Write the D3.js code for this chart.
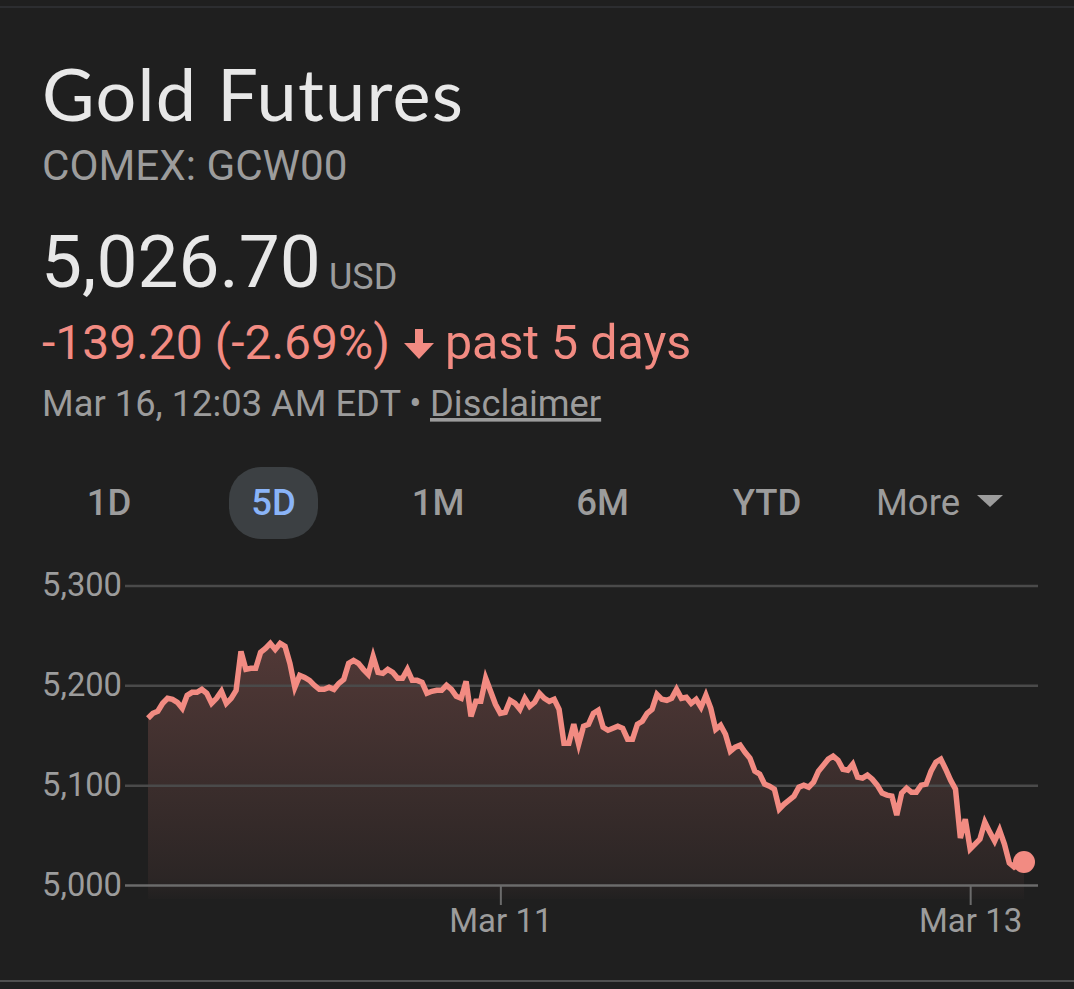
<!DOCTYPE html>
<html>
<head>
<meta charset="utf-8">
<style>
    html, body { margin: 0; padding: 0; background: #1f1f1f; }
    svg { display: block; }
    text { font-family: Roboto, sans-serif; }
    .domain { display: none; }
</style>
</head>
<body>
<svg width="1074" height="989"></svg>
<script src="https://d3js.org/d3.v7.min.js"></script>
<script>
// half-hour samples across the 5 day view
let prices = [
    5167,5172,5174,5182,5187,5186,5183,5177,5190,5193,
    5193,5196,5192,5182,5187,5194,5182,5187,5195,5234,
    5216,5217,5217,5233,5237,5242,5236,5242,5239,5222,
    5198,5210,5208,5205,5200,5196,5196,5198,5196,5202,
    5206,5222,5225,5222,5216,5211,5229,5213,5212,5216,
    5213,5207,5207,5216,5205,5205,5203,5192,5194,5195,
    5195,5200,5196,5189,5187,5204,5169,5184,5184,5207,
    5194,5181,5172,5173,5185,5182,5176,5187,5179,5183,
    5192,5187,5184,5186,5176,5142,5142,5161,5141,5159,
    5161,5172,5175,5158,5155,5157,5159,5157,5146,5146,
    5161,5164,5172,5176,5191,5186,5185,5187,5196,5187,
    5188,5182,5186,5178,5190,5177,5156,5160,5151,5134,
    5138,5140,5133,5127,5114,5111,5101,5099,5096,5076,
    5081,5085,5089,5098,5100,5098,5103,5114,5120,5126,
    5129,5125,5116,5115,5121,5108,5107,5110,5106,5100,
    5092,5090,5089,5070,5092,5097,5093,5093,5100,5101,
    5114,5123,5126,5116,5105,5096,5047,5066,5036,5041,
    5046,5063,5053,5044,5055,5041,5022,5018,5021,5023
];
let priceTicks = [5000, 5100, 5200, 5300];
let dateTicks = [72, 168];
let dateLabels = ["Mar 11", "Mar 13"];
let ranges = ["1D", "5D", "1M", "6M", "YTD"];

let white = "#e8e8e8";
let gray = "#9c9c9c";
let red = "#f28b82";

let svg = d3.select("svg");

let x = d3.scaleLinear().domain([0, prices.length - 1]).range([148, 1024]);
let y = d3.scaleLinear().domain([5000, 5300]).range([885, 585.5]);

let defs = svg.append("defs");
let grad = defs.append("linearGradient")
    .attr("id", "fade")
    .attr("x1", 0).attr("x2", 0).attr("y1", 0).attr("y2", 1);
grad.append("stop").attr("offset", "0%").attr("stop-color", red).attr("stop-opacity", 0.24);
grad.append("stop").attr("offset", "92%").attr("stop-color", red).attr("stop-opacity", 0.06);
grad.append("stop").attr("offset", "100%").attr("stop-color", red).attr("stop-opacity", 0.01);

// frame lines top and bottom
svg.append("rect").attr("x", 0).attr("y", 6).attr("width", 1074).attr("height", 2).attr("fill", "#2c2d30");
svg.append("rect").attr("x", 0).attr("y", 980).attr("width", 1074).attr("height", 2).attr("fill", "#505050");

// header
function label(txt, px, py, size, color, weight) {
    return svg.append("text")
        .attr("x", px).attr("y", py)
        .attr("font-size", size)
        .attr("font-weight", weight || 400)
        .attr("fill", color)
        .text(txt);
}

label("Gold Futures", 42, 120.5, 72, white)
    .style("font-family", "Lato, sans-serif")
    .attr("textLength", 421)
    .attr("lengthAdjust", "spacing");
label("COMEX: GCW00", 42, 179.5, 42.2, gray);
label("5,026.70", 41, 286.5, 73, white);
label("USD", 329, 288.5, 36, gray);
label("-139.20 (-2.69%)", 42, 359, 48, red);
svg.append("path")
    .attr("d", "M415 329h8v14h11l-15 16-15-16h11z")
    .attr("fill", red);
label("past 5 days", 445, 359, 48.3, red);
label("Mar 16, 12:03 AM EDT •", 42, 416, 36.3, gray);
label("Disclaimer", 430, 416, 36.3, gray).attr("text-decoration", "underline");

// range tabs
let tabX = d3.scalePoint().domain(ranges).range([109, 767]);
svg.append("rect")
    .attr("x", 229).attr("y", 467).attr("width", 89).attr("height", 72)
    .attr("rx", 32).attr("fill", "#3c4043");
svg.selectAll(".tab")
    .data(ranges)
    .enter().append("text")
    .attr("class", "tab")
    .attr("x", d => tabX(d))
    .attr("y", 515)
    .attr("text-anchor", "middle")
    .attr("font-size", 36.5)
    .attr("font-weight", 500)
    .attr("fill", d => d == "5D" ? "#8ab4f8" : gray)
    .text(d => d);
label("More", 876, 515, 36.5, gray);
svg.append("path").attr("d", "M977 495h26l-13 12z").attr("fill", gray);

// area under the line runs a bit past the baseline
let area = d3.area()
    .x((d, i) => x(i))
    .y0(899)
    .y1(d => y(d));
let line = d3.line()
    .x((d, i) => x(i))
    .y(d => y(d));

svg.append("path")
    .attr("d", area(prices))
    .attr("fill", "url(#fade)");

let yAxis = svg.append("g")
    .attr("transform", "translate(125,0)")
    .call(d3.axisLeft(y)
        .tickValues(priceTicks)
        .tickFormat(d3.format(","))
        .tickSize(-913)
        .tickPadding(3));
yAxis.selectAll("line")
    .attr("stroke", d => d == 5000 ? "#6b6b6b" : "#4a4a4a")
    .attr("stroke-width", 2.5);
yAxis.selectAll("text")
    .attr("font-size", 32.7)
    .attr("fill", gray);

let xAxis = svg.append("g")
    .attr("transform", "translate(0,885)")
    .call(d3.axisBottom(x)
        .tickValues(dateTicks)
        .tickFormat((d, i) => dateLabels[i])
        .tickSize(20)
        .tickPadding(4));
xAxis.selectAll("line").attr("stroke", "#6b6b6b").attr("stroke-width", 2);
xAxis.selectAll("text")
    .attr("font-size", 33)
    .attr("fill", gray);

svg.append("path")
    .attr("d", line(prices))
    .attr("fill", "none")
    .attr("stroke", red)
    .attr("stroke-width", 5.5)
    .attr("stroke-linejoin", "miter");

svg.append("circle")
    .attr("cx", x(prices.length - 1))
    .attr("cy", y(prices[prices.length - 1]))
    .attr("r", 11)
    .attr("fill", red);
</script>
</body>
</html>
